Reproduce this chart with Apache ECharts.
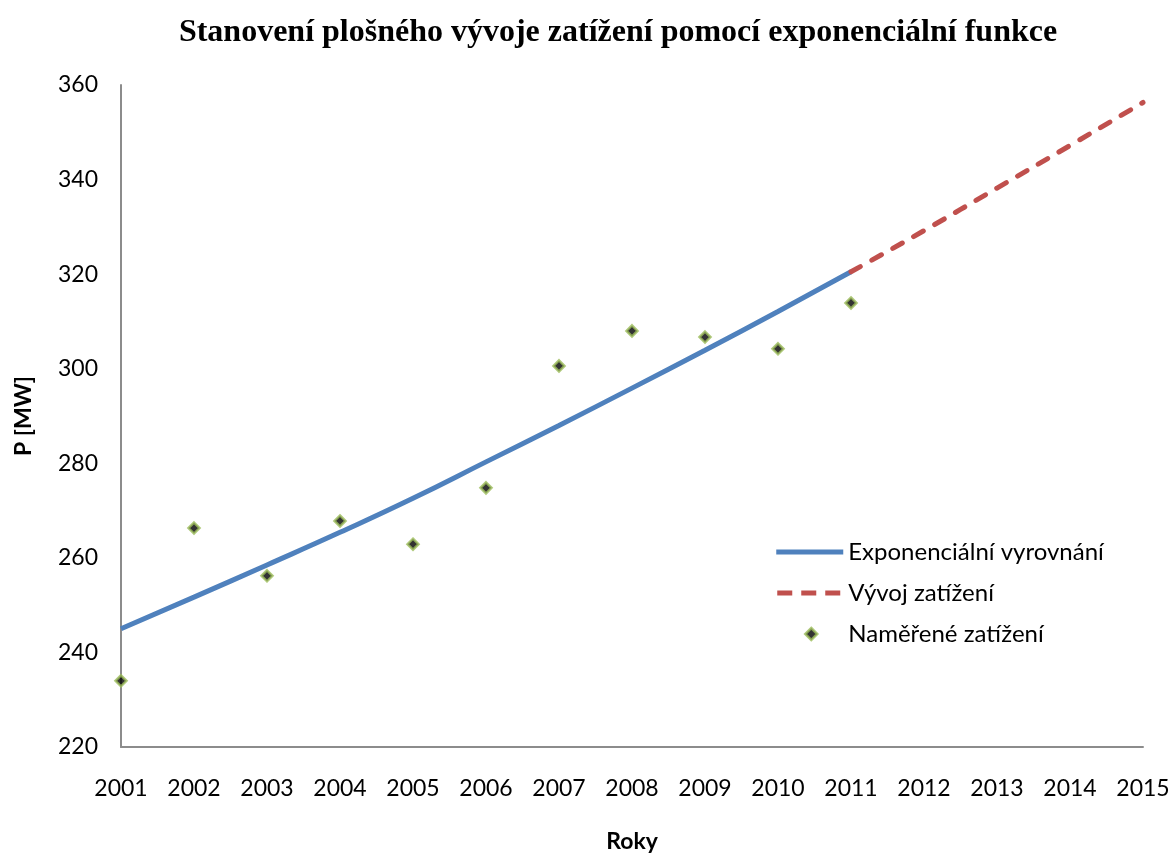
<!DOCTYPE html>
<html><head><meta charset="utf-8">
<script src="https://cdn.jsdelivr.net/npm/echarts@6/dist/echarts.min.js"></script>
<style>html,body{margin:0;padding:0;background:#fff}#c{width:1172px;height:854px}</style>
</head><body><div id="c"></div>
<script>
const years = [2001,2002,2003,2004,2005,2006,2007,2008,2009,2010,2011];
const measured = [234.0,266.3,256.2,267.8,262.9,274.8,300.6,308.0,306.7,304.2,313.9];
const fitted = [245.0,251.7,258.5,265.4,272.6,280.3,288.0,295.9,303.9,312.1,320.5];
const forecastYears = [2011,2012,2013,2014,2015];
const forecast = [320.5,329.2,338.2,347.2,356.3];
const yTicks = [220,240,260,280,300,320,340,360];
const xTicks = [2001,2002,2003,2004,2005,2006,2007,2008,2009,2010,2011,2012,2013,2014,2015];

const font = 'Lato, "Open Sans", sans-serif';
const box = 'M0,0M70,14';
const chart = echarts.init(document.getElementById('c'), null, {renderer:'canvas'});
chart.setOption({
  animation:false,
  backgroundColor:'#fff',
  title:{text:'Stanovení plošného vývoje zatížení pomocí exponenciální funkce',left:613,textAlign:'center',top:12,
    textStyle:{fontFamily:'"Liberation Serif", serif',fontWeight:'bold',fontSize:32,color:'#000'}},
  grid:{left:121,right:29,top:85,bottom:107,containLabel:false,outerBoundsMode:'none'},
  xAxis:{type:'value',min:xTicks[0],max:xTicks[xTicks.length-1],interval:1,
    name:'Roky',nameLocation:'middle',nameGap:83,
    nameTextStyle:{fontFamily:font,fontWeight:'bold',fontSize:23,color:'#000'},
    axisLine:{lineStyle:{color:'#8c8c8c',width:2}},axisTick:{show:false},splitLine:{show:false},
    axisLabel:{margin:30,fontFamily:font,fontSize:23,color:'#000',formatter:v=>String(v)}},
  yAxis:{type:'value',min:yTicks[0],max:yTicks[yTicks.length-1],interval:20,
    name:'P [MW]',nameLocation:'middle',nameGap:86,nameRotate:90,
    nameTextStyle:{fontFamily:font,fontWeight:'bold',fontSize:23,color:'#000'},
    axisLine:{show:true,lineStyle:{color:'#8c8c8c',width:2}},axisTick:{show:false},splitLine:{show:false},
    axisLabel:{margin:23,fontFamily:font,fontSize:23,color:'#000'}},
  legend:{orient:'vertical',left:767,top:535,itemWidth:70,itemHeight:14,itemGap:17,
    textStyle:{fontFamily:font,fontSize:24,lineHeight:24,color:'#000'},
    data:[
      {name:'Exponenciální vyrovnání',icon:'path://'+box+'M3,4.5L70,4.5L70,9.5L3,9.5Z',itemStyle:{color:'#4F81BD',borderWidth:0}},
      {name:'Vývoj zatížení',icon:'path://'+box+'M4,4.5h15v5h-15z M28,4.5h15v5h-15z M52,4.5h15v5h-15z',itemStyle:{color:'#C0504D',borderWidth:0}},
      {name:'Naměřené zatížení',icon:'path://'+box+'M38,1L44,7L38,13L32,7Z',itemStyle:{color:'#000',borderColor:'#9BBB59',borderWidth:2.5}}
    ]},
  series:[
    {name:'Exponenciální vyrovnání',type:'line',smooth:true,symbol:'none',
     data:years.map((y,i)=>[y,fitted[i]]),lineStyle:{color:'#4F81BD',width:5},itemStyle:{color:'#4F81BD'},z:2},
    {name:'Vývoj zatížení',type:'line',smooth:true,symbol:'none',
     data:forecastYears.map((y,i)=>[y,forecast[i]]),lineStyle:{color:'#C0504D',width:5,type:[11,13],cap:'round'},itemStyle:{color:'#C0504D'},z:2},
    {name:'Naměřené zatížení',type:'scatter',symbol:'diamond',symbolSize:11,
     data:years.map((y,i)=>[y,measured[i]]),itemStyle:{color:'#000',borderColor:'#9BBB59',borderWidth:2.5},z:3}
  ]
});
</script></body></html>
